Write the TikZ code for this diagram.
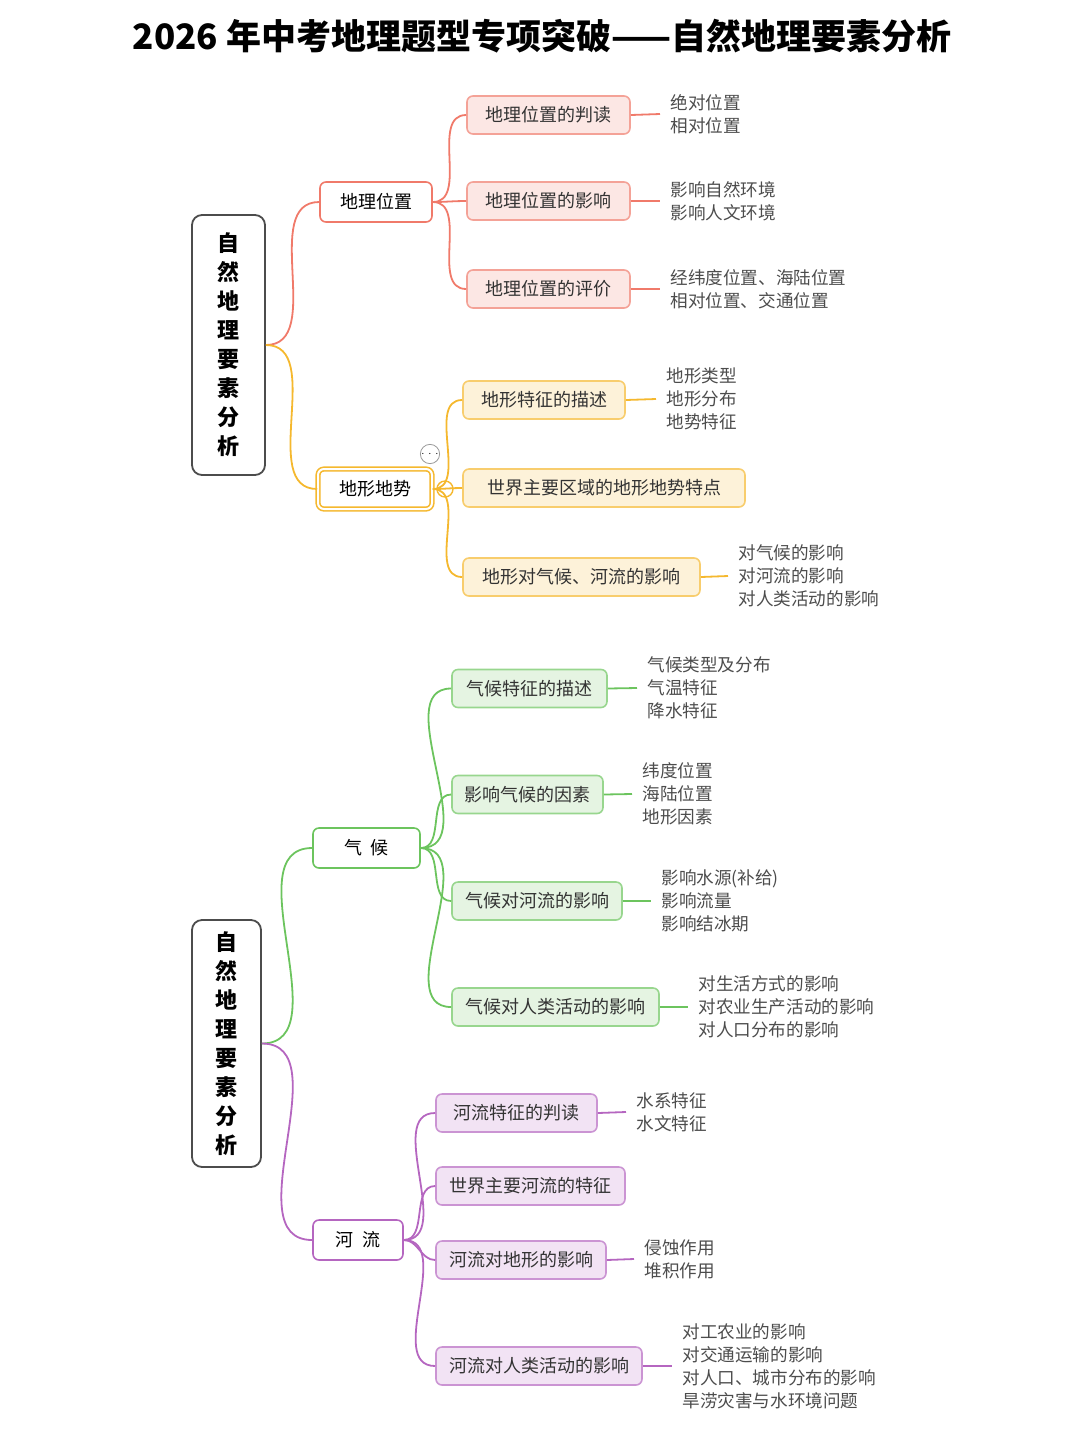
\documentclass[tikz,border=0pt]{standalone}
\usepackage{fontspec}
\setmainfont{Noto Sans CJK SC}
\newfontfamily\titlefont{Noto Sans CJK SC}
\begin{document}
\begin{tikzpicture}[x=0.5pt,y=-0.5pt,
  rootbox/.style={draw=black!70,line width=0.9pt,rounded corners=5pt,fill=white,align=center,font=\bfseries\fontsize{11}{14.5}\selectfont,inner sep=0pt},
  br/.style={draw=#1,line width=0.8pt,rounded corners=3pt,fill=white,minimum height=20pt,font=\fontsize{9}{11}\selectfont,inner sep=2pt},
  ch/.style={draw=#1!70,line width=0.8pt,rounded corners=3pt,fill=#1!18,minimum height=19pt,font=\fontsize{9}{11}\selectfont,text=black!80,inner sep=2pt},
  leaf/.style={anchor=west,align=left,font=\fontsize{8.8}{11.5}\selectfont,text=black!70,inner sep=0pt},
  con/.style={draw=#1,line width=0.9pt},
]
\definecolor{cr}{HTML}{F07A6A}
\definecolor{co}{HTML}{F5B82E}
\definecolor{cg}{HTML}{6CC45E}
\definecolor{cp}{HTML}{B566C0}
\useasboundingbox (0,0) rectangle (1080,1432);
\node[font=\titlefont\bfseries\fontsize{17.5}{19}\selectfont] (title) at (542,36) {2026 年中考地理题型专项突破——自然地理要素分析};

% root 1
\node[rootbox,minimum width=36.5pt,minimum height=130pt] (r1) at (228.5,345) {自\\然\\地\\理\\要\\素\\分\\析};
\node[br=cr,minimum width=56pt] (b1) at (376,202) {地理位置};
\node[br=co,minimum width=57pt,double,double distance=1pt] (b2) at (375,489) {地形地势};
\draw[con=cr] (r1.east) to[out=0,in=180] (b1.west);
\draw[con=co] (r1.east) to[out=0,in=180] (b2.west);

\node[ch=cr,minimum width=81.5pt] (c11) at (548.5,115) {地理位置的判读};
\node[ch=cr,minimum width=81.5pt] (c12) at (548.5,201) {地理位置的影响};
\node[ch=cr,minimum width=81.5pt] (c13) at (548.5,289) {地理位置的评价};
\foreach \c in {c11,c12,c13} \draw[con=cr] (b1.east) to[out=0,in=180] (\c.west);
\node[leaf] (l11) at (670,114) {绝对位置\\相对位置};
\node[leaf] (l12) at (670,201) {影响自然环境\\影响人文环境};
\node[leaf] (l13) at (670,289) {经纬度位置、海陆位置\\相对位置、交通位置};
\draw[con=cr] (c11.east) -- ([xshift=-5pt]l11.west);
\draw[con=cr] (c12.east) -- ([xshift=-5pt]l12.west);
\draw[con=cr] (c13.east) -- ([xshift=-5pt]l13.west);

\node[ch=co,minimum width=81pt] (c21) at (544,400) {地形特征的描述};
\node[ch=co,minimum width=141pt] (c22) at (604,488) {世界主要区域的地形地势特点};
\node[ch=co,minimum width=118.5pt] (c23) at (581.5,577) {地形对气候、河流的影响};
\draw[co,line width=0.7pt,fill=white] (445,489) circle (4pt);
\node[draw=black!40,circle,inner sep=0pt,minimum size=9pt,font=\fontsize{5}{5}\selectfont,fill=white] (dots) at (430,454) {$\cdots$};
\foreach \c in {c21,c22,c23} \draw[con=co] (b2.east) to[out=0,in=180] (\c.west);
\node[leaf] (l21) at (666,399) {地形类型\\地形分布\\地势特征};
\node[leaf] (l23) at (738,576) {对气候的影响\\对河流的影响\\对人类活动的影响};
\draw[con=co] (c21.east) -- ([xshift=-5pt]l21.west);
\draw[con=co] (c23.east) -- ([xshift=-5pt]l23.west);

% root 2
\node[rootbox,minimum width=34.5pt,minimum height=123.5pt] (r2) at (226.5,1043.5) {自\\然\\地\\理\\要\\素\\分\\析};
\node[br=cg,minimum width=53.5pt] (b3) at (366.5,848) {气\ \ 候};
\node[br=cp,minimum width=45pt] (b4) at (358,1240) {河\ \ 流};
\draw[con=cg] (r2.east) to[out=0,in=180] (b3.west);
\draw[con=cp] (r2.east) to[out=0,in=180] (b4.west);

\node[ch=cg,minimum width=77.5pt] (c31) at (529.5,688.5) {气候特征的描述};
\node[ch=cg,minimum width=75.5pt] (c32) at (527.5,794.5) {影响气候的因素};
\node[ch=cg,minimum width=85pt] (c33) at (537,901) {气候对河流的影响};
\node[ch=cg,minimum width=103.5pt] (c34) at (555.5,1007) {气候对人类活动的影响};
\foreach \c in {c31,c32,c33,c34} \draw[con=cg] (b3.east) to[out=0,in=180] (\c.west);
\node[leaf] (l31) at (647,688) {气候类型及分布\\气温特征\\降水特征};
\node[leaf] (l32) at (642,794) {纬度位置\\海陆位置\\地形因素};
\node[leaf] (l33) at (661,901) {影响水源(补给)\\影响流量\\影响结冰期};
\node[leaf] (l34) at (698,1007) {对生活方式的影响\\对农业生产活动的影响\\对人口分布的影响};
\draw[con=cg] (c31.east) -- ([xshift=-5pt]l31.west);
\draw[con=cg] (c32.east) -- ([xshift=-5pt]l32.west);
\draw[con=cg] (c33.east) -- ([xshift=-5pt]l33.west);
\draw[con=cg] (c34.east) -- ([xshift=-5pt]l34.west);

\node[ch=cp,minimum width=80.5pt] (c41) at (516.5,1113) {河流特征的判读};
\node[ch=cp,minimum width=94.5pt] (c42) at (530.5,1186) {世界主要河流的特征};
\node[ch=cp,minimum width=85pt] (c43) at (521,1260) {河流对地形的影响};
\node[ch=cp,minimum width=103pt] (c44) at (539,1366) {河流对人类活动的影响};
\foreach \c in {c41,c42,c43,c44} \draw[con=cp] (b4.east) to[out=0,in=180] (\c.west);
\node[leaf] (l41) at (636,1112) {水系特征\\水文特征};
\node[leaf] (l43) at (644,1259) {侵蚀作用\\堆积作用};
\node[leaf] (l44) at (682,1366) {对工农业的影响\\对交通运输的影响\\对人口、城市分布的影响\\旱涝灾害与水环境问题};
\draw[con=cp] (c41.east) -- ([xshift=-5pt]l41.west);
\draw[con=cp] (c43.east) -- ([xshift=-5pt]l43.west);
\draw[con=cp] (c44.east) -- ([xshift=-5pt]l44.west);
\end{tikzpicture}
\end{document}
